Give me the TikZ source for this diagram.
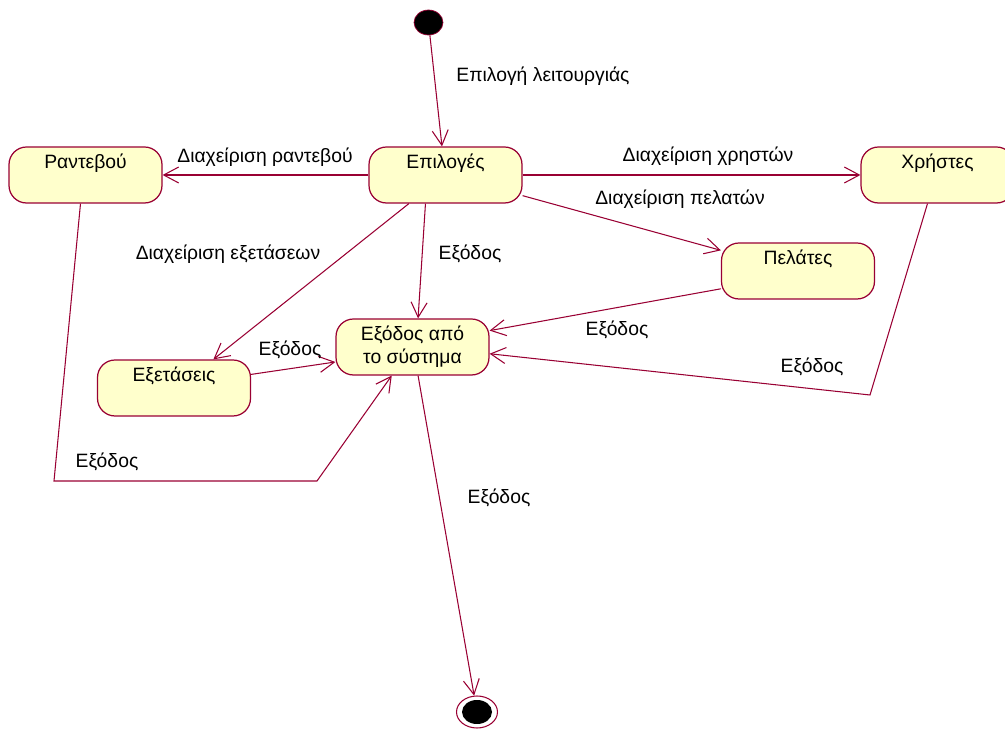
\documentclass[tikz,border=0pt]{standalone}
\usepackage{fontspec}
\setmainfont{Liberation Sans}
\usepackage{tikz}
\usetikzlibrary{arrows.meta,calc,shapes.geometric}
\definecolor{umlred}{HTML}{990033}
\definecolor{umlfill}{HTML}{FFFFCC}

\begin{document}
\begin{tikzpicture}[x=0.02cm,y=-0.02cm,font=\fontsize{11}{13}\selectfont,
    state/.style={draw=umlred,fill=umlfill,rounded corners=0.35cm,line width=0.7pt,
                  minimum width=3.06cm,minimum height=1.12cm,inner sep=0pt},
    statename/.style={anchor=north,align=center,yshift=-1pt},
    trans/.style={draw=umlred,line width=0.6pt,-{Straight Barb[length=3mm,width=3.2mm]}},
    lbl/.style={inner sep=1pt}]
  \useasboundingbox (0,0) rectangle (1005,729);

  % states
  \node[state,label={[statename]north:Επιλογές}] (epiloges) at (445.5,175) {};
  \node[state,label={[statename]north:Ραντεβού}] (rantevou) at (85.5,175) {};
  \node[state,label={[statename]north:Χρήστες}] (xristes) at (937.5,175) {};
  \node[state,label={[statename]north:Πελάτες}] (pelates) at (798,271) {};
  \node[state,label={[statename]north:Εξόδος από\\το σύστημα}] (exodos) at (412.5,347) {};
  \node[state,label={[statename]north:Εξετάσεις}] (exetaseis) at (174,388) {};

  % initial and final states
  \node[draw=umlred,fill=black,ellipse,minimum width=0.58cm,minimum height=0.5cm,
        inner sep=0pt] (start) at (428.5,22.5) {};
  \node[draw=umlred,fill=white,ellipse,minimum width=0.82cm,minimum height=0.64cm,
        inner sep=0pt,line width=0.6pt] (final) at (477,712) {};
  \node[fill=black,ellipse,minimum width=0.6cm,minimum height=0.48cm,inner sep=0pt]
        (finaldot) at (477,712) {};

  \coordinate (xbend) at (870,395);
  \coordinate (rbend1) at (54,481);
  \coordinate (rbend2) at (317,481);

  % transitions
  \draw[trans] (start) -- (epiloges.97);
  \draw[trans] (epiloges.west) -- (rantevou.east);
  \draw[trans] (epiloges.east) -- (xristes.west);
  \draw[trans] (epiloges.-15) -- (pelates.165);
  \draw[trans] (epiloges.-142) -- (exetaseis.36);
  \draw[trans] (epiloges.-125) -- (exodos.79);
  \draw[trans] (pelates.193) -- (exodos.12);
  \draw[trans] ($(xristes.south)+(-10,0)$) -- (xbend) -- (exodos.-5);
  \draw[trans] (exetaseis.10) -- (exodos.191);
  \draw[trans] ($(rantevou.south)+(-5,0)$) -- (rbend1) -- (rbend2) -- (exodos.-126);
  \draw[trans] (exodos.-79) -- (final);

  % transition labels
  \node[lbl] (l1) at (543,76) {Επιλογή λειτουργιάς};
  \node[lbl] (l2) at (265,157) {Διαχείριση ραντεβού};
  \node[lbl] (l3) at (708,156) {Διαχείριση χρηστών};
  \node[lbl] (l4) at (680,199) {Διαχείριση πελατών};
  \node[lbl] (l5) at (228,254) {Διαχείριση εξετάσεων};
  \node[lbl] (l6) at (470,254) {Εξόδος};
  \node[lbl] (l7) at (290,350) {Εξόδος};
  \node[lbl] (l8) at (617,330) {Εξόδος};
  \node[lbl] (l9) at (812,367) {Εξόδος};
  \node[lbl] (l10) at (107,462) {Εξόδος};
  \node[lbl] (l11) at (499,498) {Εξόδος};
\end{tikzpicture}
\end{document}
